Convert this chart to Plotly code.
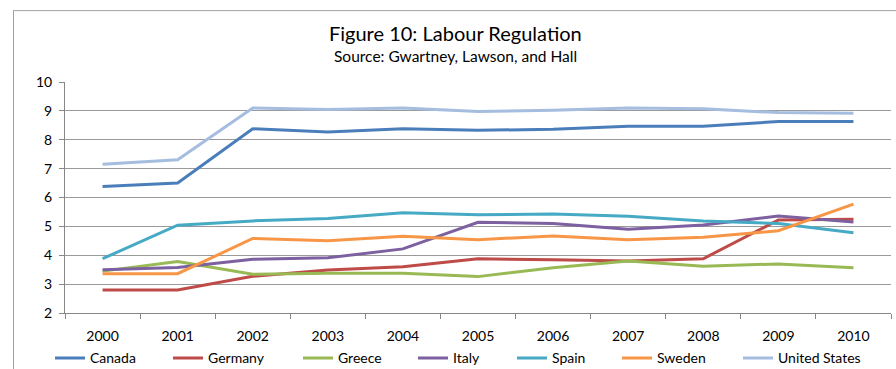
import plotly.graph_objects as go

years = ["2000", "2001", "2002", "2003", "2004", "2005", "2006", "2007", "2008", "2009", "2010"]

canada = [6.38, 6.50, 8.38, 8.27, 8.38, 8.33, 8.36, 8.47, 8.47, 8.63, 8.63]
germany = [2.80, 2.80, 3.27, 3.49, 3.60, 3.88, 3.84, 3.80, 3.88, 5.22, 5.25]
greece = [3.45, 3.78, 3.34, 3.38, 3.38, 3.26, 3.57, 3.80, 3.62, 3.70, 3.57]
italy = [3.50, 3.58, 3.86, 3.91, 4.22, 5.14, 5.10, 4.90, 5.05, 5.36, 5.15]
spain = [3.88, 5.04, 5.19, 5.27, 5.47, 5.40, 5.43, 5.35, 5.19, 5.10, 4.78]
sweden = [3.36, 3.36, 4.58, 4.50, 4.66, 4.54, 4.67, 4.54, 4.62, 4.85, 5.77]
united_states = [7.15, 7.31, 9.10, 9.05, 9.10, 8.98, 9.02, 9.10, 9.07, 8.94, 8.92]

series = [
    ("Canada", canada, "#4a7ebb"),
    ("Germany", germany, "#be4b48"),
    ("Greece", greece, "#98b954"),
    ("Italy", italy, "#7d60a0"),
    ("Spain", spain, "#46aac5"),
    ("Sweden", sweden, "#f79646"),
    ("United States", united_states, "#a5bddf"),
]

# pixel x where each legend entry's line starts in the reference
legend_x = [57, 175, 305, 420, 519, 624, 745]

FONT = "Lato, 'Open Sans', sans-serif"

W, H = 896, 369
L, R, T, B = 65, 5, 82, 55.5
pw = W - L - R
ph = H - T - B

def px(x):
    return (x - L) / pw

def py(y):
    return 1 - (y - T) / ph

fig = go.Figure()
legends = {}
for i, (name, vals, color) in enumerate(series):
    key = "legend" if i == 0 else f"legend{i + 1}"
    fig.add_trace(go.Scatter(x=years, y=vals, name=name, mode="lines",
                             line=dict(color=color, width=3), legend=key))
    legends[key] = dict(orientation="h", x=px(legend_x[i] - 7), y=py(359),
                        xanchor="left", yanchor="middle", font=dict(size=14, family=FONT),
                        itemwidth=30, bgcolor="rgba(0,0,0,0)", borderwidth=0)

fig.update_layout(
    width=W, height=H,
    margin=dict(l=L, r=R, t=T, b=B, pad=0, autoexpand=False),
    paper_bgcolor="white", plot_bgcolor="white",
    font=dict(family=FONT, size=13, color="#000000"),
    showlegend=True,
    xaxis=dict(type="category", tickson="boundaries", ticks="outside", ticklen=5,
               tickcolor="#878787", showline=True, linecolor="#878787", linewidth=1,
               showgrid=False, tickfont=dict(size=14), range=[-0.5, 10.5], fixedrange=True,
               ticklabelstandoff=10),
    yaxis=dict(range=[2, 10], dtick=1, ticks="outside", ticklen=5, tickcolor="#878787",
               showline=True, linecolor="#878787", linewidth=1,
               showgrid=True, gridcolor="#9a9a9a", gridwidth=1, zeroline=False,
               tickfont=dict(size=14), fixedrange=True, ticklabelstandoff=4),
    annotations=[
        dict(text="Figure 10: Labour Regulation", xref="paper", yref="paper",
             x=px(455), y=py(33), xanchor="center", yanchor="middle", showarrow=False,
             font=dict(size=20, family=FONT)),
        dict(text="Source: Gwartney, Lawson, and Hall", xref="paper", yref="paper",
             x=px(455), y=py(56), xanchor="center", yanchor="middle", showarrow=False,
             font=dict(size=15.5, family=FONT)),
    ],
    shapes=[
        dict(type="line", xref="paper", yref="paper", x0=px(13), x1=px(900), y0=py(10.5), y1=py(10.5),
             line=dict(color="#a0a0a0", width=1)),
        dict(type="line", xref="paper", yref="paper", x0=px(13.5), x1=px(13.5), y0=py(10.5), y1=py(372),
             line=dict(color="#a0a0a0", width=1)),
    ],
    **legends,
)

fig.write_html("out.html")
